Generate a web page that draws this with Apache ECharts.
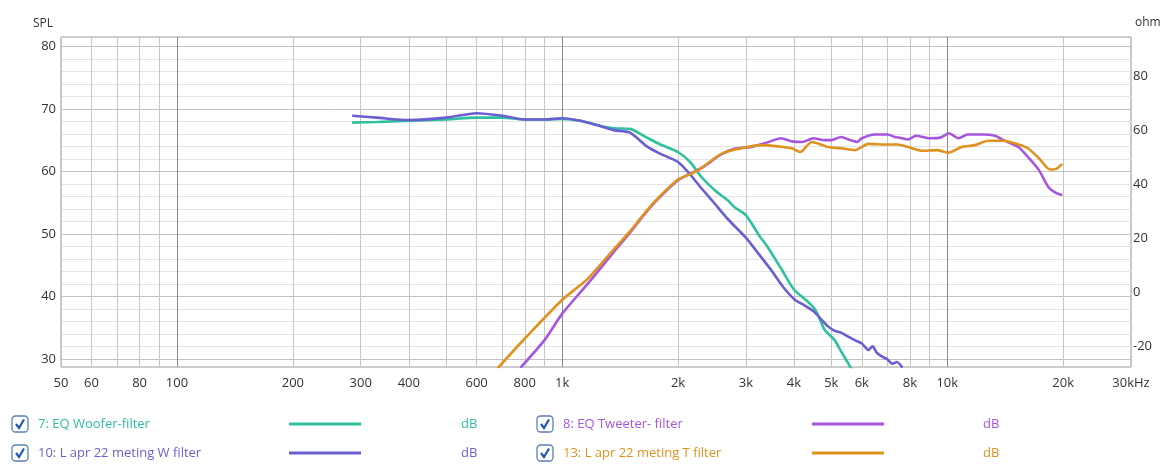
<!DOCTYPE html>
<html>
<head>
<meta charset="utf-8">
<script src="https://cdn.jsdelivr.net/npm/echarts@6/dist/echarts.min.js"></script>
<style>
html,body{margin:0;padding:0;background:#fff;}
#c{width:1172px;height:464px;}
</style>
</head>
<body>
<div id="c"></div>
<script>
// ---- tick values / labels ----
const xTicks = [50,60,70,80,90,100,200,300,400,500,600,700,800,900,1000,2000,3000,4000,5000,6000,7000,8000,9000,10000,20000,30000];
const xLabels = [50,60,80,100,200,300,400,600,800,1000,2000,3000,4000,5000,6000,8000,10000,20000,30000];
const splTicks = [30,32,34,36,38,40,42,44,46,48,50,52,54,56,58,60,62,64,66,68,70,72,74,76,78,80];
const splLabels = [30,40,50,60,70,80];
const ohmLabels = [-20,0,20,40,60,80];

// ---- series names / units ----
const seriesNames = ['7: EQ Woofer-filter','8: EQ Tweeter- filter','10: L apr 22 meting W filter','13: L apr 22 meting T filter'];
const seriesUnits = ['dB','dB','dB','dB'];

// ---- 7: EQ Woofer-filter ----
const wooferEqFreq = [285,330,400,500,600,700,800,900,1000,1115,1250,1360,1500,1660,1800,2000,2150,2300,2500,2690,2800,3000,3260,3400,3700,4000,4300,4500,4620,4800,5100,5300,5520,5700];
const wooferEqDb   = [67.8,67.9,68.1,68.3,68.6,68.6,68.3,68.3,68.4,68.1,67.3,66.9,66.8,65.4,64.3,63.1,61.5,59.1,56.9,55.4,54.3,53.0,49.6,48.1,44.5,41.1,39.4,38.2,37.0,34.7,33.0,31.2,29.4,27.8];

// ---- 8: EQ Tweeter- filter ----
const tweeterEqFreq = [780,900,1000,1180,1366,1510,1600,1750,2000,2180,2310,2590,2800,3100,3400,3700,3950,4200,4500,4800,5000,5300,5600,5830,6000,6470,7010,7300,7640,7900,8300,9000,9600,10100,10700,11300,12400,13300,14000,15300,16200,17300,18300,19100,19900];
const tweeterEqDb   = [28.6,33.0,37.2,42.4,47.2,50.4,52.4,55.2,58.6,59.8,60.6,62.7,63.6,63.9,64.6,65.3,64.8,64.7,65.3,65.0,65.0,65.5,65.0,64.7,65.3,65.9,65.9,65.5,65.3,65.1,65.7,65.3,65.4,66.1,65.3,65.9,65.9,65.7,65.0,63.9,62.3,60.2,57.5,56.6,56.2];

// ---- 10: L apr 22 meting W filter ----
const wMeasFreq = [285,330,400,500,600,700,800,900,1000,1115,1250,1360,1500,1660,1800,2000,2150,2300,2470,2700,3000,3200,3490,3750,4015,4250,4500,4710,4900,5100,5300,5520,5750,5990,6120,6240,6400,6560,6760,7000,7200,7400,7650];
const wMeasDb   = [68.9,68.6,68.2,68.6,69.3,68.9,68.3,68.3,68.5,68.1,67.3,66.6,66.2,64.0,62.8,61.5,59.5,57.3,55.1,52.3,49.4,47.2,44.2,41.5,39.5,38.6,37.6,36.3,35.2,34.5,34.2,33.6,33.0,32.5,31.9,31.4,32.0,31.0,30.4,29.9,29.2,29.5,28.6];

// ---- 13: L apr 22 meting T filter ----
const tMeasFreq = [680,796,1003,1165,1366,1510,1603,1748,2000,2180,2310,2590,2920,3290,3640,3950,4150,4450,4900,5300,5760,6240,7010,7440,7910,8580,9400,10100,10900,11800,12800,14000,15300,16200,17300,18500,19200,19900];
const tMeasDb   = [28.5,33.1,39.5,42.8,47.6,50.6,52.6,55.3,58.7,59.7,60.6,62.8,63.7,64.2,64.0,63.7,63.1,64.7,63.9,63.7,63.4,64.4,64.3,64.3,63.9,63.3,63.4,63.0,63.9,64.2,64.9,64.9,64.3,63.7,62.1,60.3,60.4,61.2];

const colors = ['#2fc19e','#a656de','#6a5fd0','#df921f'];
const FONT = '"Open Sans", "Noto Sans", sans-serif';

function zip(fs, vs){ return fs.map((f,i)=>[f, vs[i]]); }
const seriesData = [
  zip(wooferEqFreq, wooferEqDb),
  zip(tweeterEqFreq, tweeterEqDb),
  zip(wMeasFreq, wMeasDb),
  zip(tMeasFreq, tMeasDb)
];

function fmtFreq(v){
  if (v >= 30000) return '30kHz';
  if (v >= 1000) return (v/1000) + 'k';
  return String(v);
}
const isDecade = v => (v === 100 || v === 1000 || v === 10000);

// ---- legend drawn with graphics ----
const legendCols = [12, 537];
const legendRows = [424, 453];
const graphics = [];
seriesNames.forEach((name, i) => {
  const col = i % 2, row = Math.floor(i / 2);
  const x0 = legendCols[col], y = legendRows[row];
  graphics.push({type:'rect', shape:{x:x0, y:y-8, width:16, height:16, r:3.5}, style:{fill:'#fff', stroke:'#5d7fb6', lineWidth:1.3}});
  graphics.push({type:'polyline', shape:{points:[[x0+4,y],[x0+7,y+4],[x0+12,y-4.5]]}, style:{stroke:'#1f58b5', lineWidth:2.2, fill:null}});
  graphics.push({type:'text', x:x0+26, y:y, style:{text:name, fill:colors[i], font:'13px ' + FONT, textVerticalAlign:'middle'}});
  const lx = col === 0 ? 289 : 812;
  graphics.push({type:'line', shape:{x1:lx, y1:y, x2:lx+72, y2:y}, style:{stroke:colors[i], lineWidth:3}});
  const ux = col === 0 ? 461 : 983;
  graphics.push({type:'text', x:ux, y:y, style:{text:seriesUnits[i], fill:colors[i], font:'13px ' + FONT, textVerticalAlign:'middle'}});
});

const chart = echarts.init(document.getElementById('c'), null, {renderer:'canvas'});
chart.setOption({
  animation:false,
  backgroundColor:'#fff',
  textStyle:{fontFamily:FONT},
  grid:{left:61, right:41, top:37, bottom:97, show:true, borderColor:'#9a9a9a', borderWidth:1, containLabel:false},
  xAxis:{
    type:'log', logBase:10, min:50, max:30000,
    axisLine:{show:false},
    axisTick:{show:false, customValues:xTicks},
    axisLabel:{customValues:xLabels, formatter:fmtFreq, color:'#333', fontSize:13, margin:10, fontFamily:FONT, hideOverlap:false},
    splitLine:{show:true, lineStyle:{color:xTicks.map(v => isDecade(v) ? '#8a8a8a' : '#c6c6c6'), width:1}}
  },
  yAxis:[
    {
      type:'value', position:'left', min:28.7, max:81.5,
      name:'SPL', nameLocation:'end', nameGap:7,
      nameTextStyle:{align:'right', padding:[0,8,0,0], color:'#333', fontSize:12, fontFamily:FONT},
      axisLine:{show:false},
      axisTick:{show:false, customValues:splTicks},
      axisLabel:{customValues:splLabels, color:'#333', fontSize:13, margin:5, fontFamily:FONT},
      splitLine:{show:true, lineStyle:{color:splTicks.map(v => v % 10 === 0 ? '#c2c2c2' : '#e3e3e3'), width:1}}
    },
    {
      type:'value', position:'right', min:-27.6, max:94.4,
      name:'ohm', nameLocation:'end', nameGap:8,
      nameTextStyle:{align:'left', padding:[0,0,0,4], color:'#333', fontSize:12, fontFamily:FONT},
      axisLine:{show:false},
      axisTick:{show:false, customValues:ohmLabels},
      axisLabel:{customValues:ohmLabels, color:'#333', fontSize:13, margin:2, fontFamily:FONT},
      splitLine:{show:false}
    }
  ],
  series: seriesNames.map((name, i) => ({
    name:name, type:'line', yAxisIndex:0, data:seriesData[i],
    showSymbol:false, smooth:0.25, clip:true,
    lineStyle:{color:colors[i], width:2.6},
    itemStyle:{color:colors[i]}
  })),
  graphic:graphics
});
</script>
</body>
</html>
